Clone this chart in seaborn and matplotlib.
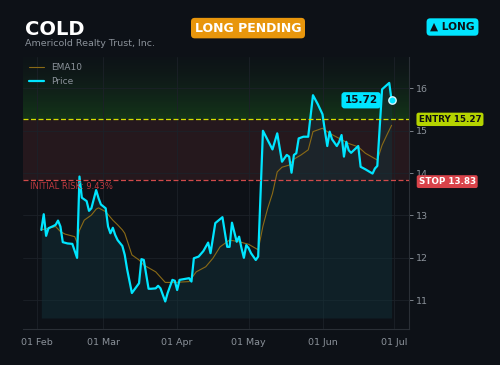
import pandas as pd
import numpy as np
import matplotlib.pyplot as plt
import matplotlib.dates as mdates
from matplotlib.colors import LinearSegmentedColormap
import seaborn as sns

# price vertices (2025)
price_dates = ["2025-02-03", "2025-02-04", "2025-02-05", "2025-02-06", "2025-02-08", "2025-02-09",
               "2025-02-10", "2025-02-11", "2025-02-12", "2025-02-14", "2025-02-16", "2025-02-18",
               "2025-02-19", "2025-02-20", "2025-02-21", "2025-02-22", "2025-02-23", "2025-02-24",
               "2025-02-26", "2025-02-27", "2025-02-28", "2025-03-02", "2025-03-03", "2025-03-04",
               "2025-03-05", "2025-03-06", "2025-03-07", "2025-03-09", "2025-03-10", "2025-03-11",
               "2025-03-13", "2025-03-16", "2025-03-17", "2025-03-18", "2025-03-20", "2025-03-21",
               "2025-03-23", "2025-03-24", "2025-03-25", "2025-03-27", "2025-03-28", "2025-03-30",
               "2025-03-31", "2025-04-01", "2025-04-02", "2025-04-04", "2025-04-06", "2025-04-07",
               "2025-04-08", "2025-04-10", "2025-04-12", "2025-04-14", "2025-04-15", "2025-04-17",
               "2025-04-20", "2025-04-22", "2025-04-23", "2025-04-24", "2025-04-26", "2025-04-27",
               "2025-04-28", "2025-04-29", "2025-04-30", "2025-05-01", "2025-05-02", "2025-05-04",
               "2025-05-05", "2025-05-07", "2025-05-09", "2025-05-11", "2025-05-13", "2025-05-15",
               "2025-05-17", "2025-05-18", "2025-05-19", "2025-05-20", "2025-05-21", "2025-05-22",
               "2025-05-24", "2025-05-26", "2025-05-28", "2025-05-30", "2025-06-01", "2025-06-02",
               "2025-06-03", "2025-06-04", "2025-06-05", "2025-06-07", "2025-06-08", "2025-06-09",
               "2025-06-10", "2025-06-11", "2025-06-12", "2025-06-13", "2025-06-16", "2025-06-17",
               "2025-06-19", "2025-06-22", "2025-06-23", "2025-06-24", "2025-06-26", "2025-06-29",
               "2025-06-30"]
price = [12.66, 13.03, 12.52, 12.70, 12.75, 12.78,
         12.88, 12.74, 12.37, 12.34, 12.33, 12.00,
         13.92, 13.42, 13.38, 13.34, 13.11, 13.17,
         13.60, 13.41, 13.26, 13.17, 12.74, 12.58,
         12.71, 12.54, 12.42, 12.28, 12.07, 11.73,
         11.17, 11.40, 11.97, 11.95, 11.27, 11.27,
         11.28, 11.34, 11.28, 10.97, 11.17, 11.48,
         11.46, 11.24, 11.48, 11.50, 11.52, 11.44,
         11.99, 12.03, 12.16, 12.36, 12.11, 12.82,
         12.96, 12.26, 12.26, 12.83, 12.38, 12.50,
         12.23, 12.00, 12.30, 12.23, 12.11, 11.95,
         12.03, 15.00, 14.78, 14.56, 14.94, 14.27,
         14.43, 14.39, 14.01, 14.43, 14.47, 14.82,
         14.86, 14.86, 15.84, 15.63, 15.39, 15.00,
         14.64, 14.98, 14.80, 14.64, 14.74, 14.90,
         14.39, 14.74, 14.54, 14.48, 14.64, 14.15,
         14.09, 13.99, 14.11, 14.17, 15.98, 16.13,
         15.72]

ema_dates = ["2025-02-03", "2025-02-09", "2025-02-11", "2025-02-13", "2025-02-17", "2025-02-18",
             "2025-02-19", "2025-02-21", "2025-02-24", "2025-02-26", "2025-02-27", "2025-03-02",
             "2025-03-05", "2025-03-07", "2025-03-09", "2025-03-10", "2025-03-13", "2025-03-16",
             "2025-03-18", "2025-03-23", "2025-03-27", "2025-03-31", "2025-04-06", "2025-04-09",
             "2025-04-13", "2025-04-16", "2025-04-19", "2025-04-23", "2025-04-27", "2025-05-01",
             "2025-05-05", "2025-05-07", "2025-05-09", "2025-05-11", "2025-05-13", "2025-05-15",
             "2025-05-18", "2025-05-20", "2025-05-23", "2025-05-26", "2025-05-28", "2025-06-01",
             "2025-06-04", "2025-06-08", "2025-06-12", "2025-06-16", "2025-06-19", "2025-06-24",
             "2025-06-26", "2025-06-28", "2025-06-30"]
ema10 = [12.66, 12.74, 12.62, 12.56, 12.50, 12.36,
         12.65, 12.89, 13.01, 13.15, 13.18, 13.09,
         12.89, 12.78, 12.66, 12.58, 12.07, 11.95,
         11.83, 11.67, 11.42, 11.42, 11.44, 11.67,
         11.79, 11.99, 12.26, 12.42, 12.38, 12.32,
         12.19, 12.75, 13.17, 13.52, 14.03, 14.14,
         14.19, 14.33, 14.43, 14.55, 14.98, 15.06,
         14.94, 14.82, 14.70, 14.62, 14.47, 14.31,
         14.66, 14.90, 15.13]

ticker = "COLD"
company = "Americold Realty Trust, Inc."
entry = 15.27
stop = 13.83
last_price = 15.72
risk_pct = 9.43

df = pd.DataFrame({"date": pd.to_datetime(price_dates), "Price": price})
ema_df = pd.DataFrame({"date": pd.to_datetime(ema_dates), "EMA10": ema10})

bg = "#0d1117"
grey = "#8b929a"
cyan = "#00e5ff"

sns.set_style("dark")
plt.rcParams['font.family'] = ['DejaVu Sans']

fig = plt.figure(figsize=(5, 3.65), dpi=100, facecolor=bg)
ax = fig.add_axes([0.046, 0.0986, 0.772, 0.745])
ax.set_facecolor(bg)

x0 = pd.Timestamp("2025-02-01") - pd.Timedelta(days=5.7)
x1 = pd.Timestamp("2025-02-01") + pd.Timedelta(days=156.3)
ylo, yhi = 10.32, 16.74

# target / risk zones
grad = np.linspace(0, 1, 100).reshape(-1, 1)
gcmap = LinearSegmentedColormap.from_list("g", [(0.08, 0.22, 0.10, 0.95), (0.06, 0.10, 0.10, 0.3)])
ax.imshow(grad, extent=[0, 1, entry, yhi], origin="lower", transform=ax.get_yaxis_transform(),
          aspect="auto", cmap=gcmap, zorder=0)
ax.axhspan(stop, entry, color="#28191e", alpha=0.9, zorder=0, lw=0)

ax.grid(True, color="#1c2128", lw=0.6, zorder=0.5)

ax.fill_between(df["date"], df["Price"], 10.58, color="#12343b", alpha=0.45, lw=0, zorder=1)

sns.lineplot(data=ema_df, x="date", y="EMA10", ax=ax, color="#8a6a16", lw=0.8, label="EMA10", zorder=2)
sns.lineplot(data=df, x="date", y="Price", ax=ax, color=cyan, lw=1.6, label="Price", zorder=3)

ax.axhline(entry, color="#d4e000", lw=0.9, ls=(0, (4, 2)), zorder=4)
ax.axhline(stop, color="#d04a4a", lw=0.9, ls=(0, (4, 2)), zorder=4)

ax.scatter(df["date"].iloc[-1], last_price, s=28, color=cyan, edgecolor="#d8f8ff", lw=1, zorder=6)
ax.annotate(f"{last_price:.2f}", (df["date"].iloc[-1], last_price), xytext=(-10, 0),
            textcoords="offset points", ha="right", va="center", fontsize=7.5, fontweight="bold",
            color="#0d1117", bbox=dict(boxstyle="round,pad=0.3", fc=cyan, ec="none"), zorder=7)

ax.text(0.018, 13.69, f"INITIAL RISK: {risk_pct:.2f}%", transform=ax.get_yaxis_transform(),
        color="#c0393f", fontsize=6, va="center", ha="left", zorder=5)

ax.text(1.025, entry, f"ENTRY {entry:.2f}", transform=ax.get_yaxis_transform(), ha="left",
        va="center", fontsize=6.3, fontweight="bold", color="#111111", clip_on=False, zorder=8,
        bbox=dict(boxstyle="round,pad=0.25", fc="#b5d400", ec="none"))
ax.text(1.025, stop - 0.03, f"STOP {stop:.2f}", transform=ax.get_yaxis_transform(), ha="left",
        va="center", fontsize=6.3, fontweight="bold", color="white", clip_on=False, zorder=8,
        bbox=dict(boxstyle="round,pad=0.22", fc="#d9434a", ec="none"))

ax.set_xlim(x0, x1)
ax.set_ylim(ylo, yhi)
ax.xaxis.set_major_locator(mdates.MonthLocator())
ax.xaxis.set_major_formatter(mdates.DateFormatter("%d %b"))
ax.yaxis.tick_right()
ax.set_yticks([11, 12, 13, 14, 15, 16])
ax.tick_params(axis="both", colors=grey, labelsize=6.8, length=3, width=0.6)
ax.tick_params(axis="y", pad=2)
ax.set_xlabel("")
ax.set_ylabel("")
for s in ["left", "top"]:
    ax.spines[s].set_visible(False)
for s in ["right", "bottom"]:
    ax.spines[s].set_visible(True)
    ax.spines[s].set_color("#2a2f36")
    ax.spines[s].set_linewidth(0.8)

leg = ax.legend(loc="upper left", bbox_to_anchor=(0.0, 1.0), frameon=False, fontsize=6.5,
                handlelength=1.6, labelcolor=grey, borderaxespad=0.3)

fig.text(0.05, 0.918, ticker, color="white", fontsize=14, fontweight="bold", va="center")
fig.text(0.05, 0.882, company, color=grey, fontsize=6.8, va="center")
fig.text(0.496, 0.923, "LONG PENDING", color="white", fontsize=9, fontweight="bold",
         ha="center", va="center", bbox=dict(boxstyle="round,pad=0.3", fc="#e8960c", ec="none"))
fig.text(0.905, 0.926, "▲ LONG", color="#0d1117", fontsize=7.6, fontweight="bold",
         ha="center", va="center", bbox=dict(boxstyle="round,pad=0.35", fc=cyan, ec="none"))

fig.savefig("out.png", dpi=100, facecolor=bg)
plt.close('all')
